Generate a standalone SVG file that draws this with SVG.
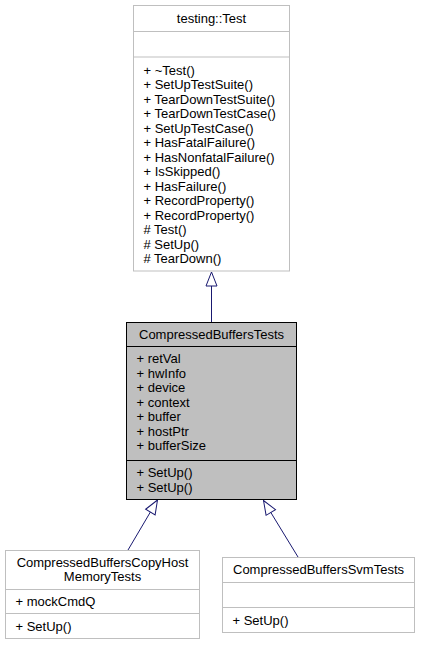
<svg xmlns="http://www.w3.org/2000/svg" width="424" height="647" viewBox="0 0 424 647">
  <style>
    .box { fill: #ffffff; stroke: #bfbfbf; stroke-width: 1; }
    .cur { fill: #bfbfbf; stroke: #000000; stroke-width: 1; }
    .sep { stroke: #bfbfbf; stroke-width: 1; }
    .sepc { stroke: #000000; stroke-width: 1; }
    text { font-family: "Liberation Sans", Arial, Helvetica, sans-serif; font-size: 13px; fill: #000000; }
    .c { text-anchor: middle; }
    .edge { fill: none; stroke: #191970; stroke-width: 1; marker-end: url(#inherit); }
  </style>
  <defs>
    <marker id="inherit" markerUnits="userSpaceOnUse" markerWidth="16" markerHeight="13" viewBox="-1 -1 16 13" refX="14" refY="5.5" orient="auto" overflow="visible">
      <path d="M0,0 L14,5.5 L0,11 Z" fill="#ffffff" stroke="#191970" stroke-width="1"/>
    </marker>
  </defs>

  <!-- inheritance edges (child to base) -->
  <g id="edges">
    <path class="edge" d="M211.5,322 L211.5,272"/>
    <path class="edge" d="M128,550 L157.5,500"/>
    <path class="edge" d="M298,557 L263.5,500.5"/>
  </g>

  <!-- base class -->
  <g id="node-testing-Test">
    <rect class="box" x="133.5" y="5.5" width="156" height="265.5"/>
    <line class="sep" x1="133.5" y1="31.5" x2="289.5" y2="31.5"/>
    <line class="sep" x1="133.5" y1="57" x2="289.5" y2="57"/>
    <text class="c" x="211.5" y="23">testing::Test</text>
    <text x="143.5" y="74.5">+ ~Test()</text>
    <text x="143.5" y="89">+ SetUpTestSuite()</text>
    <text x="143.5" y="103.5">+ TearDownTestSuite()</text>
    <text x="143.5" y="118">+ TearDownTestCase()</text>
    <text x="143.5" y="132.5">+ SetUpTestCase()</text>
    <text x="143.5" y="147">+ HasFatalFailure()</text>
    <text x="143.5" y="161.5">+ HasNonfatalFailure()</text>
    <text x="143.5" y="176">+ IsSkipped()</text>
    <text x="143.5" y="190.5">+ HasFailure()</text>
    <text x="143.5" y="205">+ RecordProperty()</text>
    <text x="143.5" y="219.5">+ RecordProperty()</text>
    <text x="143.5" y="234"># Test()</text>
    <text x="143.5" y="248.5"># SetUp()</text>
    <text x="143.5" y="263"># TearDown()</text>
  </g>

  <!-- documented class -->
  <g id="node-CompressedBuffersTests">
    <rect class="cur" x="126.5" y="322.5" width="170" height="177"/>
    <line class="sepc" x1="126.5" y1="346.5" x2="296.5" y2="346.5"/>
    <line class="sepc" x1="126.5" y1="460.5" x2="296.5" y2="460.5"/>
    <text class="c" x="211.5" y="339">CompressedBuffersTests</text>
    <text x="136.5" y="363">+ retVal</text>
    <text x="136.5" y="377.5">+ hwInfo</text>
    <text x="136.5" y="392">+ device</text>
    <text x="136.5" y="406.5">+ context</text>
    <text x="136.5" y="421">+ buffer</text>
    <text x="136.5" y="435.5">+ hostPtr</text>
    <text x="136.5" y="450">+ bufferSize</text>
    <text x="136.5" y="477">+ SetUp()</text>
    <text x="136.5" y="491.5">+ SetUp()</text>
  </g>

  <!-- derived classes -->
  <g id="node-CompressedBuffersCopyHostMemoryTests">
    <rect class="box" x="5.5" y="550.5" width="194" height="88"/>
    <line class="sep" x1="5.5" y1="589.5" x2="199.5" y2="589.5"/>
    <line class="sep" x1="5.5" y1="613.5" x2="199.5" y2="613.5"/>
    <text class="c" x="102.5" y="566.5">CompressedBuffersCopyHost</text>
    <text class="c" x="102.5" y="581">MemoryTests</text>
    <text x="15.5" y="606">+ mockCmdQ</text>
    <text x="15.5" y="630.5">+ SetUp()</text>
  </g>

  <g id="node-CompressedBuffersSvmTests">
    <rect class="box" x="222.5" y="557.5" width="192" height="75"/>
    <line class="sep" x1="222.5" y1="582.5" x2="414.5" y2="582.5"/>
    <line class="sep" x1="222.5" y1="607.5" x2="414.5" y2="607.5"/>
    <text class="c" x="318.5" y="574">CompressedBuffersSvmTests</text>
    <text x="232.5" y="624.5">+ SetUp()</text>
  </g>
</svg>
